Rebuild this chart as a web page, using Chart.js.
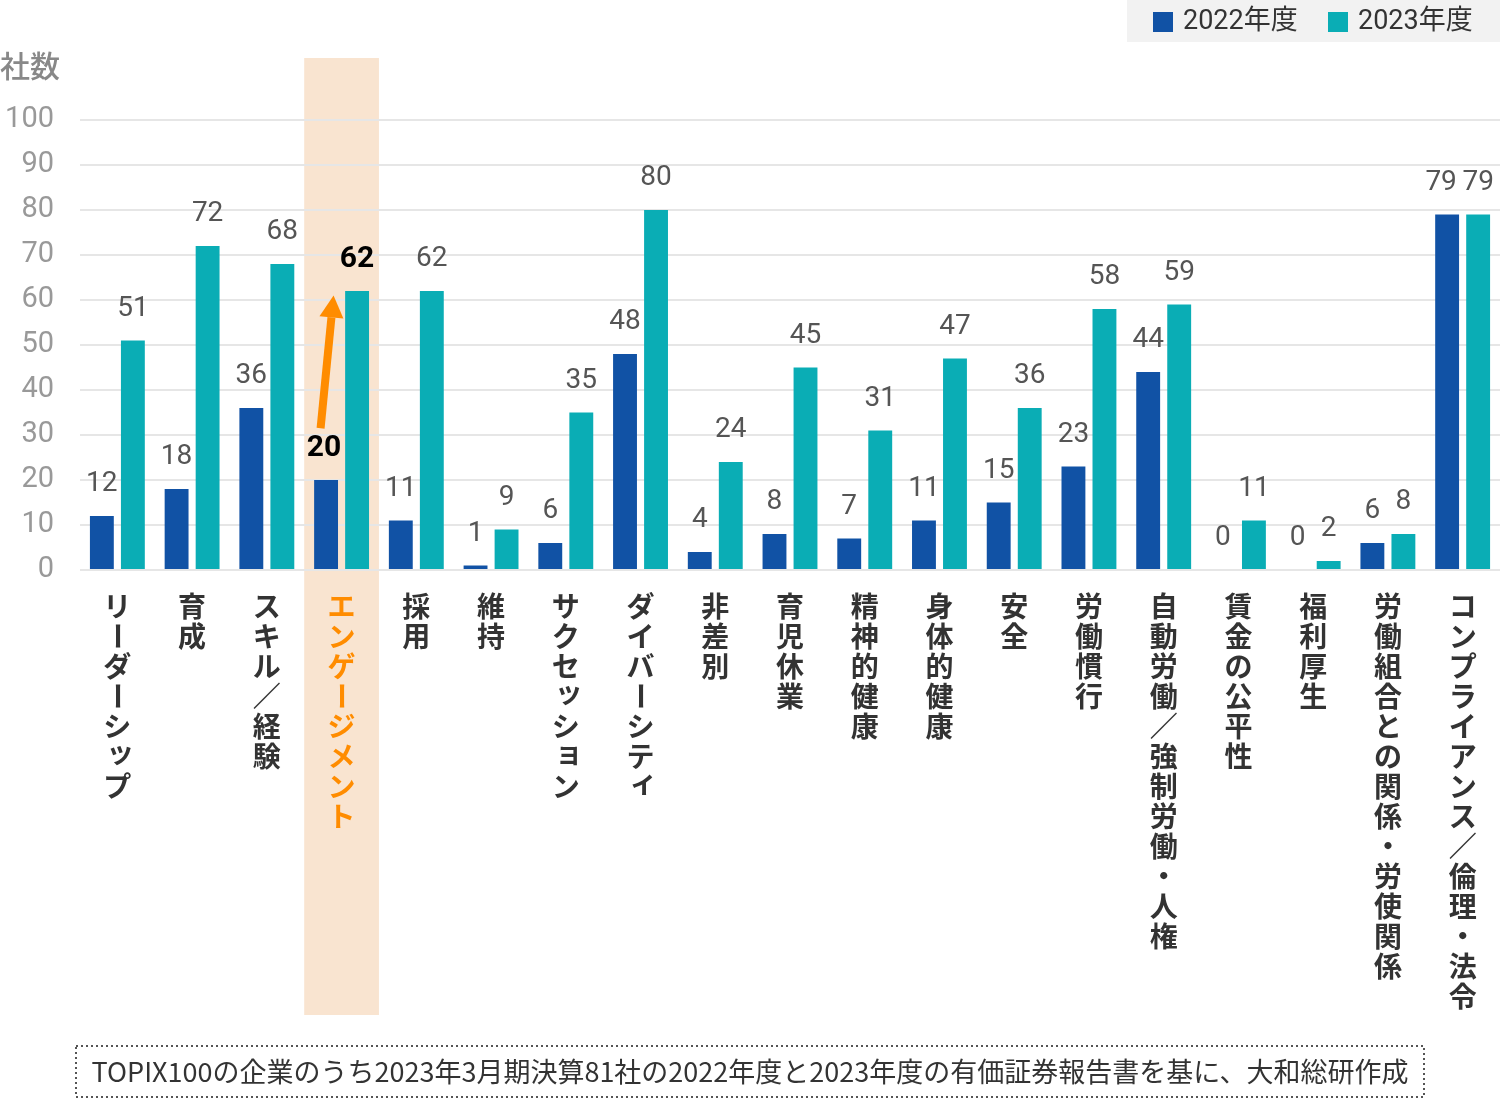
<!DOCTYPE html>
<html>
<head>
<meta charset="utf-8">
<script src="https://cdn.jsdelivr.net/npm/chart.js@4.4.0/dist/chart.umd.min.js"></script>
<style>
  html, body { margin: 0; padding: 0; background: #fff; overflow: hidden; }
</style>
</head>
<body>
<canvas id="chart" width="1500" height="1099"></canvas>
<script>
// data
const categories = [
  'リーダーシップ', '育成', 'スキル／経験', 'エンゲージメント', '採用', '維持',
  'サクセッション', 'ダイバーシティ', '非差別', '育児休業', '精神的健康', '身体的健康',
  '安全', '労働慣行', '自動労働／強制労働・人権', '賃金の公平性', '福利厚生',
  '労働組合との関係・労使関係', 'コンプライアンス／倫理・法令'
];
const values2022 = [12, 18, 36, 20, 11, 1, 6, 48, 4, 8, 7, 11, 15, 23, 44, 0, 0, 6, 79];
const values2023 = [51, 72, 68, 62, 62, 9, 35, 80, 24, 45, 31, 47, 36, 58, 59, 11, 2, 8, 79];
const seriesNames = ['2022年度', '2023年度'];
const seriesColors = ['#1152a5', '#0aadb5'];
const yTicks = [0, 10, 20, 30, 40, 50, 60, 70, 80, 90, 100];
const highlightIndex = 3;
const arrowFrom = 31.5;
const arrowTo = 61;
const yTitle = '社数';
const footnote = 'TOPIX100の企業のうち2023年3月期決算81社の2022年度と2023年度の有価証券報告書を基に、大和総研作成';

const JP = '"Noto Sans CJK JP", "Noto Sans", sans-serif';
const NUM = 'Roboto, "Noto Sans CJK JP", sans-serif';
const smallKana = 'ッョィャュァゥェォ';

const extras = {
  id: 'extras',
  beforeDraw(chart) {
    const ctx = chart.ctx;
    const x = chart.scales.x;
    ctx.save();
    ctx.fillStyle = '#fff';
    ctx.fillRect(0, 0, chart.width, chart.height);
    // highlight band behind engagement
    const cw = (x.right - x.left) / categories.length;
    const cx = x.getPixelForValue(highlightIndex);
    ctx.fillStyle = '#f9e4d0';
    ctx.fillRect(cx - cw / 2, 58, cw, 1015 - 58);
    ctx.restore();
  },
  afterDatasetsDraw(chart) {
    const ctx = chart.ctx;
    const x = chart.scales.x;
    const y = chart.scales.y;
    ctx.save();

    // value labels
    ctx.textAlign = 'center';
    ctx.textBaseline = 'middle';
    chart.data.datasets.forEach((ds, di) => {
      chart.getDatasetMeta(di).data.forEach((bar, i) => {
        if (i === highlightIndex) {
          ctx.font = 'bold 30px ' + NUM;
          ctx.fillStyle = '#000';
        } else {
          ctx.font = '28px ' + NUM;
          ctx.fillStyle = '#555';
        }
        let dx = 0;
        if (di === 0 && i === highlightIndex) dx = -2;
        // keep equal neighbouring labels apart
        if (di === 0 && values2022[i] >= 10 && values2023[i] >= 10 && Math.abs(values2022[i] - values2023[i]) < 4) dx = -6;
        ctx.fillText(String(ds.data[i]), bar.x + dx, bar.y - 32);
      });
    });

    // arrow
    const hc = x.getPixelForValue(highlightIndex);
    const x1 = hc - 21, y1 = y.getPixelForValue(arrowFrom);
    const x2 = hc - 8, y2 = y.getPixelForValue(arrowTo);
    const ang = Math.atan2(y2 - y1, x2 - x1);
    const headLen = 22, headW = 12;
    const bx = x2 - headLen * Math.cos(ang), by = y2 - headLen * Math.sin(ang);
    ctx.strokeStyle = '#ff8c00';
    ctx.fillStyle = '#ff8c00';
    ctx.lineWidth = 8;
    ctx.beginPath();
    ctx.moveTo(x1, y1);
    ctx.lineTo(bx, by);
    ctx.stroke();
    ctx.beginPath();
    ctx.moveTo(x2, y2);
    ctx.lineTo(bx + headW * Math.sin(ang), by - headW * Math.cos(ang));
    ctx.lineTo(bx - headW * Math.sin(ang), by + headW * Math.cos(ang));
    ctx.closePath();
    ctx.fill();

    // vertical category labels
    ctx.font = 'bold 28px ' + JP;
    categories.forEach((label, i) => {
      const cx = x.getPixelForValue(i);
      ctx.fillStyle = i === highlightIndex ? '#ff8c00' : '#333';
      [...label].forEach((ch, k) => {
        const cy = 606 + k * 30;
        if (ch === 'ー') {
          ctx.save();
          ctx.translate(cx, cy);
          ctx.rotate(Math.PI / 2);
          ctx.fillText(ch, 0, 0);
          ctx.restore();
        } else if (smallKana.includes(ch)) {
          ctx.fillText(ch, cx + 3, cy - 4);
        } else {
          ctx.fillText(ch, cx, cy);
        }
      });
    });

    // y title
    ctx.font = '500 30px ' + JP;
    ctx.fillStyle = '#888';
    ctx.textAlign = 'left';
    ctx.fillText(yTitle, 0, 66);

    // legend
    ctx.fillStyle = '#f2f2f2';
    ctx.fillRect(1127, 0, 373, 42);
    ctx.font = '27px ' + NUM;
    let lx = 1153;
    seriesNames.forEach((name, i) => {
      ctx.fillStyle = seriesColors[i];
      ctx.fillRect(lx, 12, 20, 20);
      ctx.fillStyle = '#333';
      ctx.fillText(name, lx + 30, 22);
      lx += 175;
    });

    // footnote
    ctx.strokeStyle = '#555';
    ctx.lineWidth = 2;
    ctx.setLineDash([2, 3]);
    ctx.strokeRect(76, 1046, 1348, 51);
    ctx.setLineDash([]);
    ctx.font = '27px ' + JP;
    ctx.fillStyle = '#333';
    ctx.textAlign = 'center';
    ctx.fillText(footnote, 750, 1072);

    ctx.restore();
  }
};

new Chart(document.getElementById('chart'), {
  type: 'bar',
  data: {
    labels: categories,
    datasets: [{
      label: seriesNames[0],
      data: values2022,
      backgroundColor: seriesColors[0],
      borderWidth: 0
    }, {
      label: seriesNames[1],
      data: values2023,
      backgroundColor: seriesColors[1],
      borderWidth: 0
    }]
  },
  options: {
    responsive: false,
    devicePixelRatio: 1,
    animation: false,
    categoryPercentage: 0.83,
    barPercentage: 0.77,
    layout: { padding: { top: 120, bottom: 521, right: 0, left: 0 } },
    plugins: {
      legend: { display: false },
      tooltip: { enabled: false }
    },
    scales: {
      x: {
        grid: { display: false },
        border: { display: false },
        ticks: { display: false }
      },
      y: {
        min: 0,
        max: 100,
        afterFit(scale) { scale.width = 80; },
        afterBuildTicks(scale) { scale.ticks = yTicks.map(v => ({ value: v })); },
        grid: { color: '#e6e6e6', lineWidth: 2, drawTicks: false },
        border: { display: false },
        ticks: {
          padding: 26,
          color: '#999',
          font: { family: 'Roboto', size: 29 }
        }
      }
    }
  },
  plugins: [extras]
});
</script>
</body>
</html>
